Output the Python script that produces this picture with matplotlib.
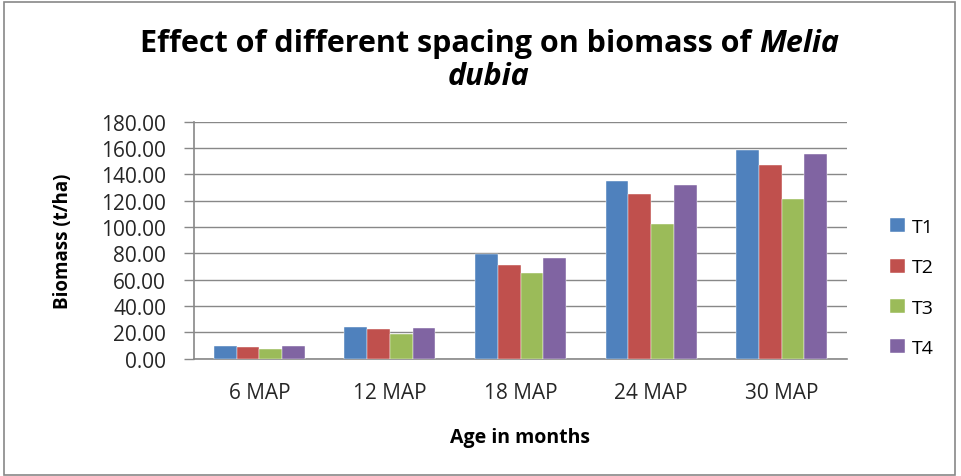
import numpy as np
import matplotlib
matplotlib.use("Agg")
import matplotlib.pyplot as plt
from matplotlib.patches import Rectangle

# ── data ──────────────────────────────────────────────────────────────────────
categories = ["6 MAP", "12 MAP", "18 MAP", "24 MAP", "30 MAP"]
series_names = ["T1", "T2", "T3", "T4"]
t1 = [9.6, 24.1, 79.5, 134.7, 158.5]
t2 = [8.9, 22.6, 71.4, 125.1, 147.4]
t3 = [7.6, 18.8, 65.1, 102.5, 121.0]
t4 = [9.6, 23.3, 76.2, 132.2, 155.5]
y_ticks = [0, 20, 40, 60, 80, 100, 120, 140, 160, 180]

colors = ["#4F81BD", "#C0504D", "#9BBB59", "#8064A2"]
grey = "#888888"
txt = "#262626"

plt.rcParams["font.family"] = ["Open Sans", "DejaVu Sans"]

fig = plt.figure(figsize=(9.61, 4.77), dpi=100)
ax = fig.add_axes([0.2019, 0.2459, 0.6795, 0.4969])

x = np.arange(len(categories))
w = 0.174
for i, (vals, name) in enumerate(zip([t1, t2, t3, t4], series_names)):
    ax.bar(x + (i - 1.5) * w, vals, width=w, color=colors[i], label=name,
           zorder=3, edgecolor="white", linewidth=0.3)

ax.set_xlim(-0.5, len(categories) - 0.5)
ax.set_ylim(0, 180)
ax.set_yticks(y_ticks)
ax.set_yticklabels([f"{v:.2f}" for v in y_ticks], fontsize=15, color=txt)
ax.set_xticks(x)
ax.set_xticklabels(categories, fontsize=15, color=txt)
ax.tick_params(axis="x", length=0, pad=17)
ax.tick_params(axis="y", length=7, color=grey, width=1, pad=13)
ax.grid(axis="y", color=grey, lw=1, zorder=0)

for s in ["top", "right"]:
    ax.spines[s].set_visible(False)
for s in ["left", "bottom"]:
    ax.spines[s].set_color(grey)
    ax.spines[s].set_linewidth(1.2)

ax.set_ylabel("Biomass (t/ha)", fontsize=13.5, fontweight="bold")
ax.yaxis.set_label_coords(-0.185, 0.5)
ax.set_xlabel("Age in months", fontsize=14, fontweight="bold", va="top")
ax.xaxis.set_label_coords(0.499, -0.29)

# title: plain part + bold italic species name, centred together
fs = 22
r = fig.canvas.get_renderer()
t_a = fig.text(0, 0.907, "Effect of different spacing on biomass of ", fontsize=fs,
               fontweight="bold", va="center", ha="left")
t_b = fig.text(0, 0.907, "Melia", fontsize=fs, fontweight="bold", style="italic",
               va="center", ha="left")
wa = t_a.get_window_extent(r).width / fig.bbox.width
wb = t_b.get_window_extent(r).width / fig.bbox.width
x0 = 0.509 - (wa + wb) / 2
t_a.set_x(x0)
t_b.set_x(x0 + wa)
fig.text(0.508, 0.838, "dubia", fontsize=fs, fontweight="bold", style="italic",
         ha="center", va="center")

ax.legend(loc="center left", bbox_to_anchor=(1.066, 0.30), frameon=False,
          fontsize=14, handlelength=0.75, handleheight=0.75, labelspacing=1.15,
          handletextpad=0.35, borderpad=0, borderaxespad=0)

fig.patches.append(Rectangle((0.004, 0.002), 0.99, 0.991, transform=fig.transFigure,
                             fill=False, edgecolor=grey, lw=1.2))

fig.savefig("out.png", dpi=100)
